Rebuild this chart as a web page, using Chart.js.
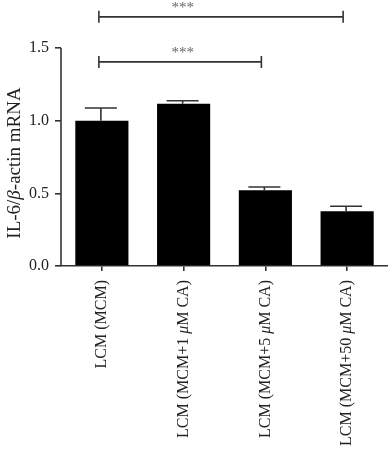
<!DOCTYPE html>
<html>
<head>
<meta charset="utf-8">
<script src="https://cdn.jsdelivr.net/npm/chart.js@4"></script>
<style>
  html, body { margin: 0; padding: 0; background: #fff; }
  #wrap { width: 388px; height: 451px; }
</style>
</head>
<body>
<div id="wrap"><canvas id="il6Chart"></canvas></div>
<script>
// data
const groups = ['LCM (MCM)', 'LCM (MCM+1 μM CA)', 'LCM (MCM+5 μM CA)', 'LCM (MCM+50 μM CA)'];
const means = [1.0, 1.117, 0.521, 0.376];
const errors = [0.087, 0.02, 0.023, 0.035];
const yTicks = [0, 0.5, 1.0, 1.5];

// significance brackets (group index from -> to, height in axis units)
const bracketFrom = [0, 0];
const bracketTo = [3, 2];
const bracketY = [1.714, 1.404];
const bracketText = ['***', '***'];
const bracketTextAt = [1, 1]; // stars sit over the 2nd group in the figure

const SERIF = '"Liberation Serif", "DejaVu Serif", serif';
const INK = '#222';

// draw text where some characters are italic (μ, β)
function drawRich(ctx, text, italics, size, x, y, align) {
    const parts = [];
    for (const ch of text) {
        const it = italics.includes(ch);
        if (parts.length && parts[parts.length - 1].it === it) parts[parts.length - 1].s += ch;
        else parts.push({ s: ch, it: it });
    }
    let total = 0;
    parts.forEach(p => {
        ctx.font = (p.it ? 'italic ' : '') + size + 'px ' + SERIF;
        p.w = ctx.measureText(p.s).width;
        total += p.w;
    });
    let cx = align === 'right' ? x - total : align === 'center' ? x - total / 2 : x;
    ctx.textAlign = 'left';
    parts.forEach(p => {
        ctx.font = (p.it ? 'italic ' : '') + size + 'px ' + SERIF;
        ctx.fillText(p.s, cx, y);
        cx += p.w;
    });
}

const extrasPlugin = {
    id: 'extras',
    afterDatasetsDraw(chart) {
        const ctx = chart.ctx;
        const x = chart.scales.x;
        const y = chart.scales.y;
        const meta = chart.getDatasetMeta(0);
        ctx.save();
        ctx.strokeStyle = '#333';
        ctx.fillStyle = INK;
        ctx.lineWidth = 1.6;

        // y axis line from 0 to 1.5 only
        ctx.beginPath();
        ctx.moveTo(x.left, y.getPixelForValue(0));
        ctx.lineTo(x.left, y.getPixelForValue(yTicks[yTicks.length - 1]));
        ctx.stroke();

        // error bars (upper only)
        means.forEach((m, i) => {
            const bx = meta.data[i].x;
            const top = y.getPixelForValue(m + errors[i]);
            const base = y.getPixelForValue(m);
            ctx.beginPath();
            ctx.moveTo(bx - 1, base);
            ctx.lineTo(bx - 1, top);
            ctx.moveTo(bx - 17, top);
            ctx.lineTo(bx + 15, top);
            ctx.stroke();
        });

        // significance brackets
        bracketFrom.forEach((f, i) => {
            const x1 = x.getPixelForValue(f) - 3;
            const x2 = x.getPixelForValue(bracketTo[i]) - 4;
            const by = y.getPixelForValue(bracketY[i]);
            ctx.beginPath();
            ctx.moveTo(x1, by); ctx.lineTo(x2, by);
            ctx.moveTo(x1, by - 6); ctx.lineTo(x1, by + 6);
            ctx.moveTo(x2, by - 6); ctx.lineTo(x2, by + 6);
            ctx.stroke();
            ctx.fillStyle = '#666';
            ctx.textBaseline = 'alphabetic';
            ctx.font = '15px ' + SERIF;
            ctx.textAlign = 'center';
            ctx.fillText(bracketText[i], x.getPixelForValue(bracketTextAt[i]) - 1, by - 5);
        });

        // category labels, rotated, with italic μ
        ctx.fillStyle = INK;
        ctx.textBaseline = 'middle';
        groups.forEach((g, i) => {
            const tx = x.getPixelForTick(i);
            ctx.save();
            ctx.translate(tx, y.bottom + 14);
            ctx.rotate(-Math.PI / 2);
            drawRich(ctx, g, ['μ'], 16, 0, 0, 'right');
            ctx.restore();
        });

        // y axis title with italic β
        ctx.save();
        ctx.translate(15, 163);
        ctx.rotate(-Math.PI / 2);
        drawRich(ctx, 'IL-6/β-actin mRNA', ['β'], 19, 0, 0, 'center');
        ctx.restore();

        ctx.restore();
    }
};

new Chart(document.getElementById('il6Chart'), {
    type: 'bar',
    data: {
        labels: groups,
        datasets: [{
            data: means,
            backgroundColor: '#000',
            borderWidth: 0,
            categoryPercentage: 1.0,
            barPercentage: 0.65
        }]
    },
    options: {
        responsive: true,
        maintainAspectRatio: false,
        animation: false,
        layout: { padding: 0 },
        plugins: {
            legend: { display: false },
            tooltip: { enabled: false }
        },
        scales: {
            x: {
                afterFit: s => { s.height = 185; s.paddingLeft = 0; s.paddingRight = 0; },
                ticks: { display: false },
                grid: { display: true, drawOnChartArea: false, drawTicks: true, tickLength: 5, color: '#333', lineWidth: 1.6, offset: false },
                border: { display: true, color: '#333', width: 1.6 }
            },
            y: {
                min: 0,
                max: 1.83,
                afterFit: s => { s.width = 61; s.paddingTop = 0; s.paddingBottom = 0; },
                afterBuildTicks: s => { s.ticks = yTicks.map(v => ({ value: v })); },
                ticks: {
                    padding: 6,
                    color: INK,
                    font: { family: SERIF, size: 16 },
                    callback: v => v.toFixed(1)
                },
                grid: { display: true, drawOnChartArea: false, drawTicks: true, tickLength: 6, color: '#333', lineWidth: 1.6 },
                border: { display: false }
            }
        }
    },
    plugins: [extrasPlugin]
});
</script>
</body>
</html>
